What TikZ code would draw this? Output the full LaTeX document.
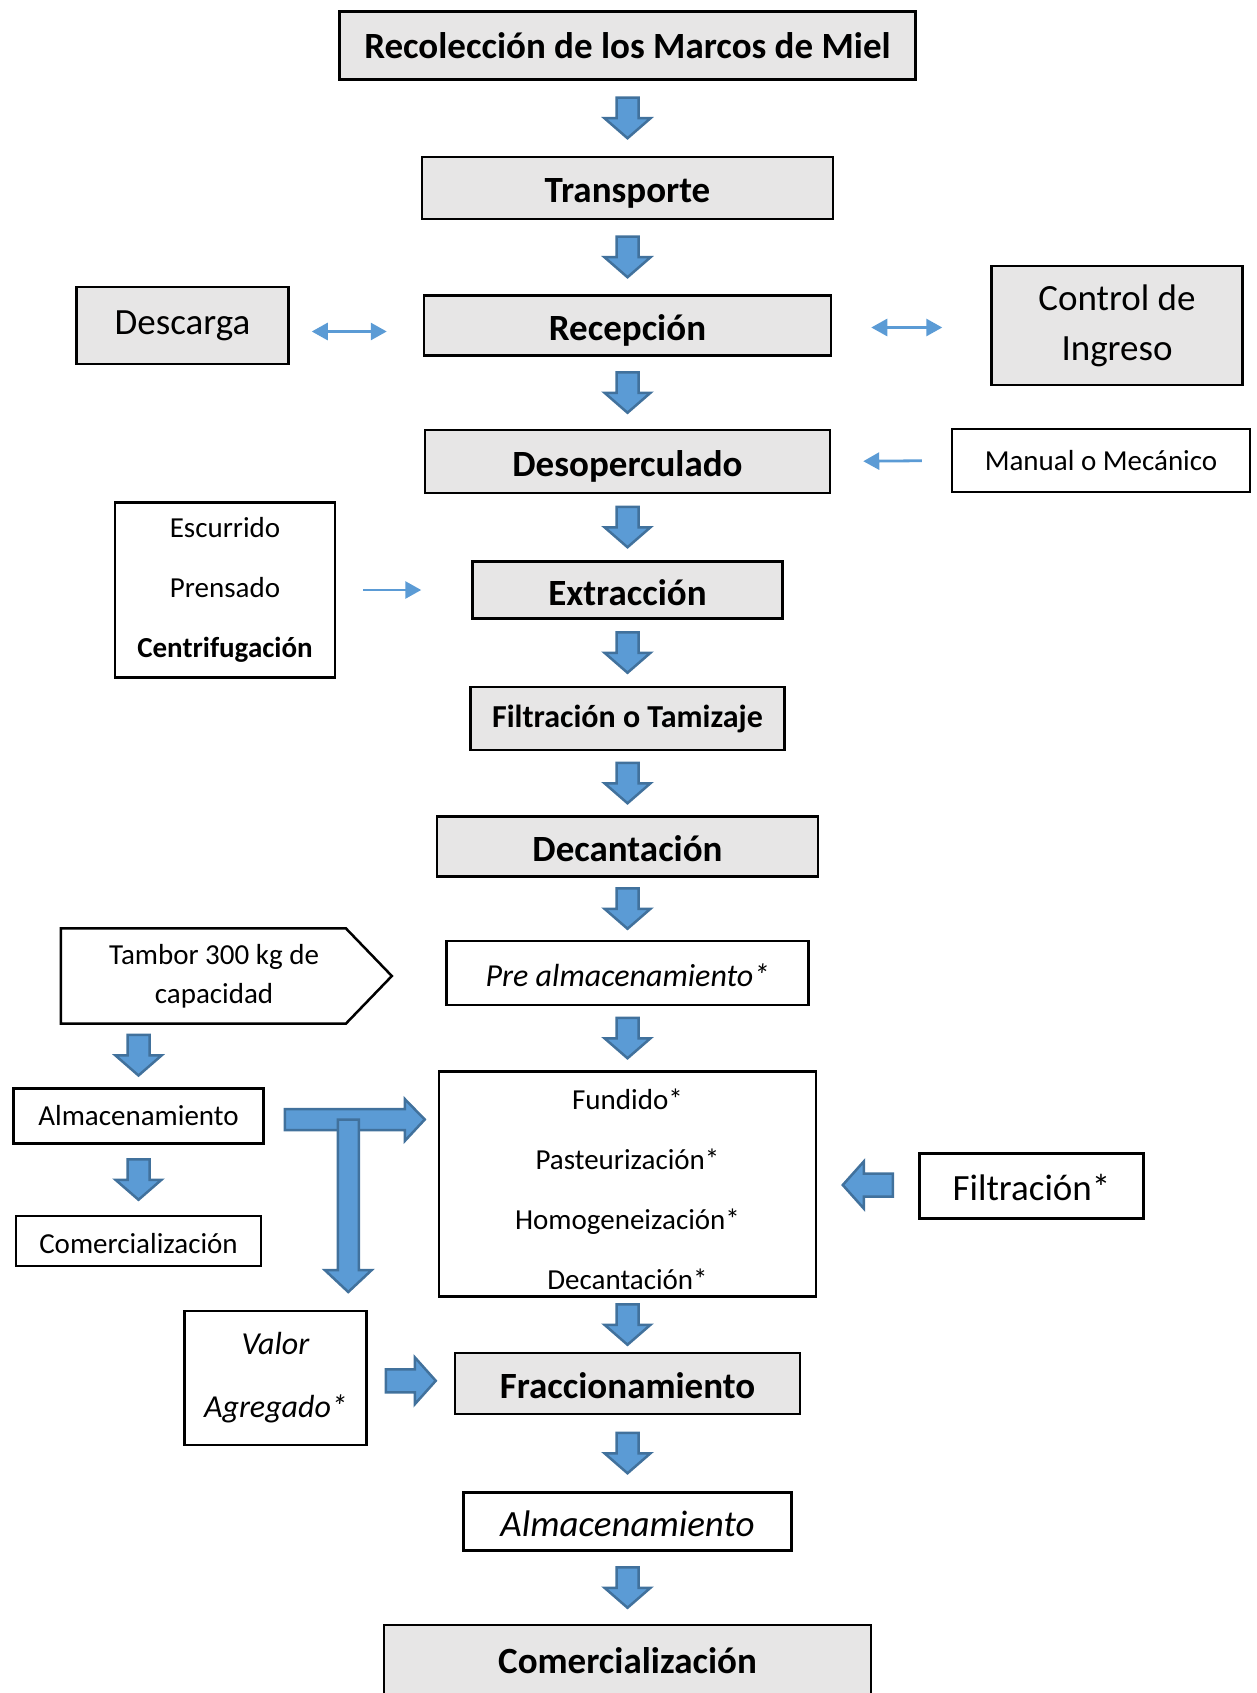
\documentclass[tikz,border=0pt]{standalone}
\usepackage{fontspec}
\setmainfont{Carlito}
\usetikzlibrary{arrows.meta,calc,positioning}

\definecolor{grisclaro}{HTML}{E7E6E6}
\definecolor{azul}{HTML}{5B9BD5}
\definecolor{azulborde}{HTML}{41719C}

\newcommand{\letragrande}{\fontsize{37}{45}\selectfont}
\newcommand{\letramedia}{\fontsize{32}{40}\selectfont}
\newcommand{\letrachica}{\fontsize{29}{36}\selectfont}

\begin{document}
\begin{tikzpicture}[x=1pt,y=-1pt,>={Triangle[length=16pt,width=17pt]},
                    caja/.style={draw,line width=2.5pt,inner sep=0pt,align=center,fill=white},
                    gris/.style={caja,fill=grisclaro},
                    bajo/.style={text height=#1,text depth=0pt},
                    bajo/.default=30pt,
                    bloque/.style={fill=azul,draw=azulborde,line width=2.5pt},
                    fina/.style={draw=azul,line width=2.8pt,->},
                    doble/.style={draw=azul,line width=2.8pt,<->},
                    pics/flecha/.style={code={
                      \path[bloque] (-11,-20.5) -- (11,-20.5) -- (11,0) -- (23,0) -- (0,20) -- (-23,0) -- (-11,0) -- cycle;}},
                    pics/flechah/.style={code={
                      \path[bloque] (-25,-11.5) -- (4,-11.5) -- (4,-23.5) -- (25,0) -- (4,23.5) -- (4,11.5) -- (-25,11.5) -- cycle;}}]

  \useasboundingbox (0,0) rectangle (1256,1693);

  % columna principal
  \node[gris,minimum width=576pt,minimum height=68pt,font=\letragrande\bfseries] (recoleccion) at (627.5,45.5) {Recolección de los Marcos de Miel};
  \node[gris,bajo,minimum width=411pt,minimum height=62pt,font=\letragrande\bfseries] (transporte) [below=75pt of recoleccion] {Transporte};
  \node[gris,bajo,minimum width=407pt,minimum height=60pt,font=\letragrande\bfseries] (recepcion) [below=74pt of transporte] {Recepción};
  \node[gris,bajo,minimum width=405pt,minimum height=63pt,font=\letragrande\bfseries] (desoperculado) [below=72pt of recepcion] {Desoperculado};
  \node[gris,bajo,minimum width=310pt,minimum height=57pt,font=\letragrande\bfseries] (extraccion) [below=66pt of desoperculado] {Extracción};
  \node[gris,minimum width=314pt,minimum height=63pt,font=\letramedia\bfseries] (tamizaje) [below=66pt of extraccion] {Filtración o Tamizaje};
  \node[gris,bajo,minimum width=381pt,minimum height=60pt,font=\letragrande\bfseries] (decantacion) [below=64pt of tamizaje] {Decantación};
  \node[caja,bajo=27pt,minimum width=362pt,minimum height=64pt,font=\letramedia\itshape] (prealm) [below=62pt of decantacion] {Pre almacenamiento*};
  \node[caja,minimum width=377pt,minimum height=225pt] (fundido) [below=64pt of prealm] {};
  \node[gris,bajo,minimum width=345pt,minimum height=61pt,font=\letragrande\bfseries] (fracc) [below=54pt of fundido] {Fraccionamiento};
  \node[caja,bajo,minimum width=328pt,minimum height=58pt,font=\letragrande\itshape] (almfinal) [below=76pt of fracc] {Almacenamiento};
  \node[gris,minimum width=487pt,minimum height=72pt,font=\letragrande\bfseries] (comfinal) [below=72pt of almfinal] {Comercialización};

  \begin{scope}
    \clip (fundido.north west) rectangle ($(fundido.south east)+(0,-8)$);
    \node[align=center,font={\fontsize{29}{60}\selectfont}] (fundidotxt) at ($(fundido.center)+(0,5)$) {Fundido*\\Pasteurización*\\Homogeneización*\\Decantación*};
  \end{scope}

  % cajas laterales
  \node[gris,minimum width=212pt,minimum height=77pt,font=\letragrande] (descarga) [left=133pt of recepcion] {Descarga};
  \node[gris,minimum width=251pt,minimum height=119pt,font={\fontsize{37}{50}\selectfont}] (control) [right=158pt of recepcion] {Control de\\Ingreso};
  \node[caja,minimum width=298pt,minimum height=63pt,font=\letrachica] (manual) [right=119.5pt of desoperculado,yshift=1pt] {Manual o Mecánico};
  \node[caja,minimum width=220pt,minimum height=175pt,font={\fontsize{29}{60}\selectfont}] (metodos) [left=135pt of extraccion] {Escurrido\\Prensado\\\textbf{Centrifugación}};
  \node[inner sep=0pt,align=center,minimum width=306pt,minimum height=95pt,font={\fontsize{29}{39}\selectfont}] (tambor) [left=78pt of prealm,yshift=-3pt] {Tambor 300 kg de\\capacidad};
  \draw[line width=2.5pt] (tambor.north west) -- ($(tambor.north west)+(285,0)$) -- ($(tambor.west)+(331,0)$)
        -- ($(tambor.south west)+(285,0)$) -- (tambor.south west) -- cycle;
  \node[caja,minimum width=250pt,minimum height=55pt,font=\letrachica] (almizq) at (138.5,1116) {Almacenamiento};
  \node[caja,bajo=25pt,minimum width=245pt,minimum height=50pt,font=\letrachica] (comizq) [below=70pt of almizq] {Comercialización};
  \node[caja,bajo=28pt,minimum width=224pt,minimum height=65pt,font=\letragrande] (filtrado) [right=101pt of fundido,yshift=-2pt] {Filtración*};
  \node[caja,minimum width=182pt,minimum height=134pt,font={\fontsize{32}{63}\selectfont\itshape}] (valor) [left=86pt of fracc,yshift=5.5pt] {Valor\\Agregado*};

  % flechas de bloque
  \pic at ($(recoleccion.south)!0.5!(transporte.north)$) {flecha};
  \pic at ($(transporte.south)!0.5!(recepcion.north)$) {flecha};
  \pic at ($(recepcion.south)!0.5!(desoperculado.north)$) {flecha};
  \pic at ($(desoperculado.south)!0.5!(extraccion.north)$) {flecha};
  \pic at ($(extraccion.south)!0.5!(tamizaje.north)$) {flecha};
  \pic at ($(tamizaje.south)!0.5!(decantacion.north)$) {flecha};
  \pic at ($(decantacion.south)!0.5!(prealm.north)$) {flecha};
  \pic at ($(prealm.south)!0.5!(fundido.north)$) {flecha};
  \pic at ($(fundido.south)!0.5!(fracc.north)$) {flecha};
  \pic at ($(fracc.south)!0.5!(almfinal.north)$) {flecha};
  \pic at ($(almfinal.south)!0.5!(comfinal.north)$) {flecha};
  \pic at ($(almizq.north)!0.5!(almizq.north |- tambor.south)$) {flecha};
  \pic at ($(almizq.south)!0.5!(comizq.north)$) {flecha};
  \pic at ($(valor.east)!0.5!(fracc.west)$) {flechah};
  \pic[rotate=180] at ($(fundido.east)!0.5!(filtrado.west)$) {flechah};

  % flecha en T
  \coordinate (tinicio) at ($(almizq.east)+(20,3.5)$);
  \coordinate (tcruce) at ($(tinicio)+(63.5,0)$);
  \path[bloque] (tinicio) ++(0,-10.5) -- ++(120,0) -- ++(0,-10) -- ++(20,20.5) -- ++(-20,21.5) -- ++(0,-11) -- ++(-120,0) -- cycle;
  \path[bloque] (tcruce) ++(-10.5,0) -- ++(21,0) -- ++(0,150.5) -- ++(13,0) -- ++(-23.5,22) -- ++(-23.5,-22) -- ++(13,0) -- cycle;

  % flechas finas
  \draw[doble,shorten <=22pt,shorten >=36pt] ([yshift=-6pt]descarga.east) -- ([yshift=-6pt]recepcion.west);
  \draw[doble,shorten <=39pt,shorten >=48pt] ([yshift=-2pt]recepcion.east) -- ([yshift=-2pt]control.west);
  \draw[fina,shorten <=29pt,shorten >=32pt] (manual.west) -- (desoperculado.east);
  \draw[fina,shorten <=27pt,shorten >=50pt] (metodos.east) -- (extraccion.west);
\end{tikzpicture}
\end{document}
